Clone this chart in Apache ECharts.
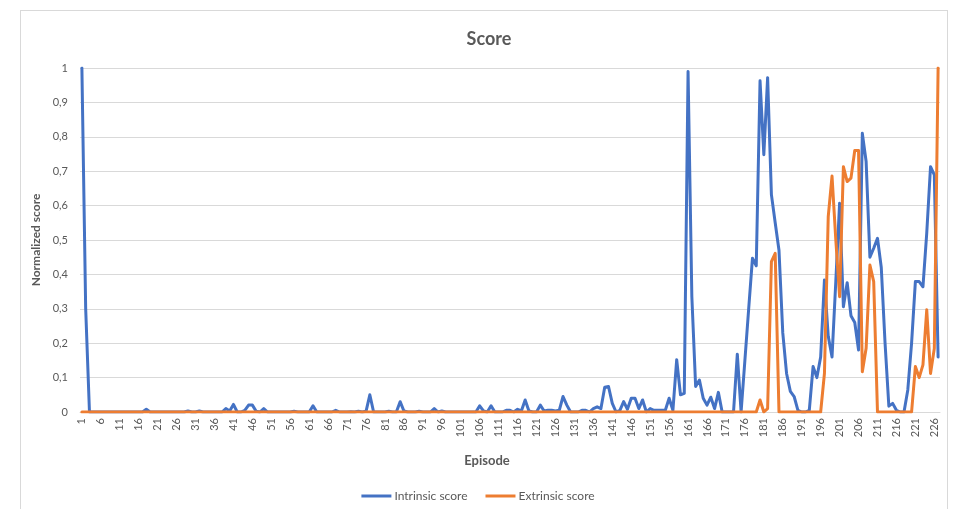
<!DOCTYPE html>
<html>
<head>
<meta charset="utf-8">
<script src="https://cdn.jsdelivr.net/npm/echarts@6/dist/echarts.min.js"></script>
<style>
  html, body { margin: 0; padding: 0; background: #fff; }
  .frame {
    position: absolute; left: 20px; top: 10px; width: 928px; height: 510px;
    border: 1px solid #d9d9d9; box-sizing: border-box;
  }
  #chart { position: absolute; left: 0; top: 0; width: 956px; height: 509px; }
</style>
</head>
<body>
<div class="frame"></div>
<div id="chart"></div>
<script>
// episodes 1..227
const episodes = Array.from({ length: 227 }, (_, i) => String(i + 1))

const intrinsicScore = [
  1, 0.3, 0, 0, 0, 0, 0, 0, 0, 0,
  0, 0, 0, 0, 0, 0, 0, 0.008, 0, 0,
  0, 0, 0, 0, 0, 0, 0, 0, 0.003, 0,
  0, 0.003, 0, 0, 0, 0, 0, 0, 0.01, 0.003,
  0.022, 0, 0, 0.005, 0.02, 0.02, 0.002, 0, 0.01, 0,
  0, 0, 0, 0, 0, 0, 0.002, 0, 0, 0,
  0, 0.018, 0, 0, 0, 0, 0, 0.005, 0, 0,
  0, 0.001, 0, 0.002, 0, 0.002, 0.05, 0, 0, 0,
  0, 0.002, 0, 0, 0.03, 0.003, 0, 0, 0, 0.002,
  0, 0, 0, 0.01, 0, 0.003, 0, 0, 0, 0,
  0, 0, 0, 0, 0, 0.018, 0.003, 0, 0.018, 0,
  0, 0, 0.005, 0.005, 0, 0.008, 0.003, 0.035, 0.003, 0,
  0, 0.02, 0.003, 0.005, 0.005, 0.003, 0.005, 0.045, 0.02, 0,
  0, 0, 0.005, 0.005, 0, 0.01, 0.015, 0.01, 0.072, 0.074,
  0.025, 0, 0.005, 0.03, 0.008, 0.04, 0.04, 0.01, 0.035, 0,
  0.01, 0.005, 0.005, 0.005, 0.005, 0.04, 0.005, 0.152, 0.05, 0.054,
  0.99, 0.335, 0.074, 0.093, 0.04, 0.02, 0.043, 0.01, 0.057, 0,
  0, 0, 0, 0.168, 0, 0.15, 0.3, 0.447, 0.425, 0.963,
  0.748, 0.972, 0.632, 0.55, 0.47, 0.23, 0.112, 0.06, 0.045, 0.005,
  0, 0, 0.005, 0.132, 0.1, 0.16, 0.384, 0.22, 0.16, 0.38,
  0.607, 0.306, 0.376, 0.28, 0.26, 0.18, 0.81, 0.728, 0.45, 0.476,
  0.505, 0.42, 0.2, 0.017, 0.025, 0.005, 0, 0, 0.064, 0.2,
  0.379, 0.379, 0.364, 0.52, 0.713, 0.689, 0.16
]

const extrinsicScore = [
  0, 0, 0, 0, 0, 0, 0, 0, 0, 0, 0, 0, 0, 0, 0, 0, 0, 0, 0, 0,
  0, 0, 0, 0, 0, 0, 0, 0, 0, 0, 0, 0, 0, 0, 0, 0, 0, 0, 0, 0,
  0, 0, 0, 0, 0, 0, 0, 0, 0, 0, 0, 0, 0, 0, 0, 0, 0, 0, 0, 0,
  0, 0, 0, 0, 0, 0, 0, 0, 0, 0, 0, 0, 0, 0, 0, 0, 0, 0, 0, 0,
  0, 0, 0, 0, 0, 0, 0, 0, 0, 0, 0, 0, 0, 0, 0, 0, 0, 0, 0, 0,
  0, 0, 0, 0, 0, 0, 0, 0, 0, 0, 0, 0, 0, 0, 0, 0, 0, 0, 0, 0,
  0, 0, 0, 0, 0, 0, 0, 0, 0, 0, 0, 0, 0, 0, 0, 0, 0, 0, 0, 0,
  0, 0, 0, 0, 0, 0, 0, 0, 0, 0, 0, 0, 0, 0, 0, 0, 0, 0, 0, 0,
  0, 0, 0, 0, 0, 0, 0, 0, 0, 0, 0, 0, 0, 0, 0, 0, 0, 0, 0,
  0.035, 0, 0.01, 0.437, 0.461, 0, 0, 0, 0, 0, 0,
  0, 0, 0, 0, 0, 0, 0.112, 0.568, 0.686, 0.5,
  0.335, 0.713, 0.67, 0.68, 0.76, 0.76, 0.117, 0.185, 0.427, 0.379,
  0, 0, 0, 0, 0, 0, 0, 0, 0, 0,
  0.132, 0.1, 0.137, 0.297, 0.112, 0.185, 1
]

const textColor = '#595959'
const font = 'Lato, "Open Sans", sans-serif'

const chart = echarts.init(document.getElementById('chart'))

chart.setOption({
  animation: false,
  textStyle: { fontFamily: font },
  title: [
    {
      text: 'Score',
      left: 484,
      top: 25,
      textAlign: 'center',
      textStyle: { fontSize: 18, fontWeight: 'bold', color: textColor, fontFamily: font }
    },
    {
      text: 'Episode',
      left: 482,
      top: 449,
      textAlign: 'center',
      textStyle: { fontSize: 13, fontWeight: 'bold', color: textColor, fontFamily: font }
    }
  ],
  legend: {
    data: ['Intrinsic score', 'Extrinsic score'],
    left: 'center',
    top: 485,
    icon: 'rect',
    itemWidth: 30,
    itemHeight: 3,
    itemGap: 18,
    textStyle: { fontSize: 12, color: textColor, fontFamily: font, padding: [0, 0, 0, -2] }
  },
  grid: {
    left: 80,
    right: 16,
    top: 68,
    bottom: 97,
    containLabel: false
  },
  xAxis: {
    type: 'category',
    data: episodes,
    boundaryGap: true,
    axisLine: { lineStyle: { color: '#d9d9d9' } },
    axisTick: { show: false },
    axisLabel: {
      interval: 4,
      rotate: 90,
      color: textColor,
      fontSize: 11,
      margin: 6,
      fontFamily: font
    },
    splitLine: { show: false }
  },
  yAxis: {
    type: 'value',
    min: 0,
    max: 1,
    interval: 0.1,
    name: 'Normalized score',
    nameLocation: 'middle',
    nameGap: 36,
    nameTextStyle: { fontSize: 12, fontWeight: 'bold', color: textColor, fontFamily: font },
    axisLine: { show: false },
    axisTick: { show: false },
    axisLabel: {
      color: textColor,
      fontSize: 11,
      margin: 12,
      fontFamily: font,
      formatter: (v) => String(Math.round(v * 10) / 10).replace('.', ',')
    },
    splitLine: { lineStyle: { color: '#d9d9d9', width: 1 } }
  },
  series: [
    {
      name: 'Intrinsic score',
      type: 'line',
      data: intrinsicScore,
      showSymbol: false,
      symbol: 'none',
      color: '#4472C4',
      lineStyle: { width: 3, color: '#4472C4', cap: 'round', join: 'round' }
    },
    {
      name: 'Extrinsic score',
      type: 'line',
      data: extrinsicScore,
      showSymbol: false,
      symbol: 'none',
      color: '#ED7D31',
      lineStyle: { width: 3, color: '#ED7D31', cap: 'round', join: 'round' }
    }
  ]
})
</script>
</body>
</html>
